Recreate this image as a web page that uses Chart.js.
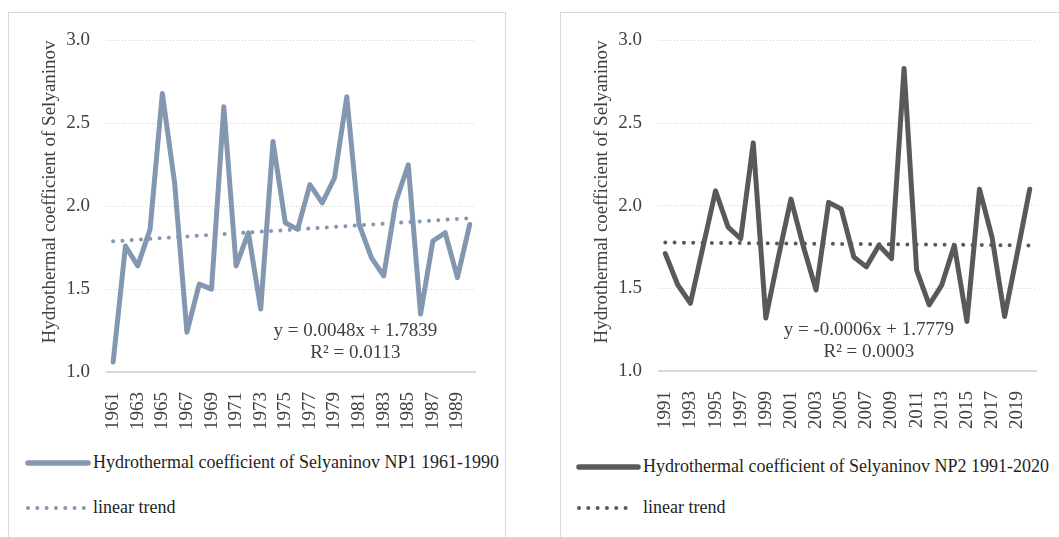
<!DOCTYPE html>
<html>
<head>
<meta charset="utf-8">
<script src="https://cdn.jsdelivr.net/npm/chart.js@4/dist/chart.umd.min.js"></script>
<style>
  html, body { margin: 0; padding: 0; background: #fff; }
  body { width: 1059px; height: 537px; overflow: hidden; position: relative; font-family: 'Liberation Serif', 'Times New Roman', serif; }
  .panel { position: absolute; top: 12px; height: 560px; box-shadow: inset 0 0 0 1px #d9d9d9; }
  .panel canvas { position: absolute; left: 0; top: 0; }
  .leg { position: absolute; font-size: 18px; color: #1f1f1f; white-space: nowrap; line-height: 20px; }
  .leg svg { position: absolute; }
</style>
</head>
<body>
<div class="panel" id="p1" style="left:8px; width:498px;">
  <canvas id="c1" width="497" height="440"></canvas>
</div>
<div class="panel" id="p2" style="left:560px; width:520px;">
  <canvas id="c2" width="505" height="440"></canvas>
</div>
<script>
// categories
const years1 = ['1961','1962','1963','1964','1965','1966','1967','1968','1969','1970',
                '1971','1972','1973','1974','1975','1976','1977','1978','1979','1980',
                '1981','1982','1983','1984','1985','1986','1987','1988','1989','1990'];
const years2 = ['1991','1992','1993','1994','1995','1996','1997','1998','1999','2000',
                '2001','2002','2003','2004','2005','2006','2007','2008','2009','2010',
                '2011','2012','2013','2014','2015','2016','2017','2018','2019','2020'];

// Hydrothermal coefficient of Selyaninov
const htc1 = [1.06, 1.76, 1.64, 1.86, 2.68, 2.14, 1.24, 1.53, 1.50, 2.60,
              1.64, 1.84, 1.38, 2.39, 1.90, 1.86, 2.13, 2.02, 2.17, 2.66,
              1.89, 1.69, 1.58, 2.03, 2.25, 1.35, 1.79, 1.84, 1.57, 1.89];
const htc2 = [1.71, 1.52, 1.41, 1.75, 2.09, 1.87, 1.80, 2.38, 1.32, 1.69,
              2.04, 1.75, 1.49, 2.02, 1.98, 1.69, 1.63, 1.76, 1.68, 2.83,
              1.61, 1.40, 1.52, 1.76, 1.30, 2.10, 1.81, 1.33, 1.71, 2.10];

// linear trend end points (first and last year)
const trend1 = [1.7887, 1.9279];
const trend2 = [1.7773, 1.7599];

const eq1 = ['y = 0.0048x + 1.7839', 'R² = 0.0113'];
const eq2 = ['y = -0.0006x + 1.7779', 'R² = 0.0003'];

const yTicks = [1.0, 1.5, 2.0, 2.5, 3.0];

const legend1 = ['Hydrothermal coefficient of Selyaninov NP1 1961-1990', 'linear trend'];
const legend2 = ['Hydrothermal coefficient of Selyaninov NP2 1991-2020', 'linear trend'];

const FONT = "'Liberation Serif', 'Times New Roman', serif";
const TXT = '#404040';

const equationPlugin = {
  id: 'equation',
  afterDatasetsDraw(chart, args, opts) {
    const { ctx, scales: { x, y } } = chart;
    const cx = x.getPixelForValue(opts.xIndex);
    const cy = y.getPixelForValue(opts.yValue);
    ctx.save();
    ctx.font = `19px ${FONT}`;
    ctx.fillStyle = TXT;
    ctx.textAlign = 'center';
    ctx.textBaseline = 'middle';
    opts.lines.forEach((t, i) => ctx.fillText(t, cx, cy + i * 22.5));
    ctx.restore();
  }
};

function makeChart(id, labels, values, trend, color, eq, eqPos, padRight, xHeight) {
  return new Chart(document.getElementById(id), {
    type: 'line',
    data: {
      labels,
      datasets: [{
        label: 'trend',
        data: [{ x: labels[0], y: trend[0] }, { x: labels[labels.length - 1], y: trend[1] }],
        borderColor: color,
        borderWidth: 4,
        borderDash: [0.01, 9.3],
        borderCapStyle: 'round',
        pointRadius: 0,
        order: 0,
      }, {
        label: 'htc',
        data: values,
        borderColor: color,
        borderWidth: 5,
        borderJoinStyle: 'round',
        borderCapStyle: 'round',
        pointRadius: 0,
        tension: 0,
        order: 1,
      }]
    },
    options: {
      responsive: false,
      animation: false,
      layout: { padding: { left: 31, top: 25, right: padRight, bottom: 0 } },
      plugins: {
        legend: { display: false },
        tooltip: { enabled: false },
        equation: { lines: eq, xIndex: eqPos[0], yValue: eqPos[1] }
      },
      scales: {
        x: {
          offset: true,
          grid: { display: false },
          border: { display: true, color: '#d9d9d9', width: 2 },
          ticks: {
            autoSkip: false,
            maxRotation: 90,
            minRotation: 90,
            padding: 12,
            color: TXT,
            font: { family: FONT, size: 19 },
            callback: (v, i) => (i % 2 === 0 ? labels[i] : '')
          },
          afterFit: s => { s.height = xHeight; }
        },
        y: {
          min: 1,
          max: 3,
          afterBuildTicks: s => { s.ticks = yTicks.map(v => ({ value: v })); },
          grid: { color: '#d0d0d0', lineWidth: 1, drawTicks: false },
          border: { display: false, dash: [1, 2] },
          ticks: {
            padding: 17,
            color: TXT,
            font: { family: FONT, size: 19 },
            callback: v => v.toFixed(1)
          },
          title: {
            display: true,
            align: 'end',
            text: 'Hydrothermal coefficient of Selyaninov',
            color: TXT,
            font: { family: FONT, size: 19 },
            padding: { top: 0, bottom: 0 }
          },
          afterFit: s => { s.width = 68; }
        }
      }
    },
    plugins: [equationPlugin]
  });
}

function addLegend(panelId, texts, color, lineY, trendY, x0, lineW, dotW, textX) {
  const p = document.getElementById(panelId);
  const rows = [
    { y: lineY, svg: `<svg width="${lineW + 8}" height="10" style="left:${x0 - 4}px;top:-5px"><line x1="4" y1="5" x2="${lineW + 4}" y2="5" stroke="${color}" stroke-width="5.5" stroke-linecap="round"/></svg>` },
    { y: trendY, svg: `<svg width="${dotW + 8}" height="10" style="left:${x0 - 4}px;top:-5px"><line x1="4" y1="5" x2="${dotW + 4}" y2="5" stroke="${color}" stroke-width="4" stroke-linecap="round" stroke-dasharray="0.01 9.3"/></svg>` }
  ];
  rows.forEach((r, i) => {
    const d = document.createElement('div');
    d.className = 'leg';
    d.style.left = '0px';
    d.style.top = r.y + 'px';
    d.innerHTML = r.svg + `<span style="position:absolute;left:${textX}px;top:-11px">${texts[i]}</span>`;
    p.appendChild(d);
  });
}

makeChart('c1', years1, htc1, trend1, '#8497b0', eq1, [19.7, 1.25], 27, 80);
makeChart('c2', years2, htc2, trend2, '#595959', eq2, [16.2, 1.25], 28, 81);

addLegend('p1', legend1, '#8497b0', 451, 496, 20, 60, 56, 85);
addLegend('p2', legend2, '#595959', 455, 496, 19, 59, 53, 83);
</script>
</body>
</html>
